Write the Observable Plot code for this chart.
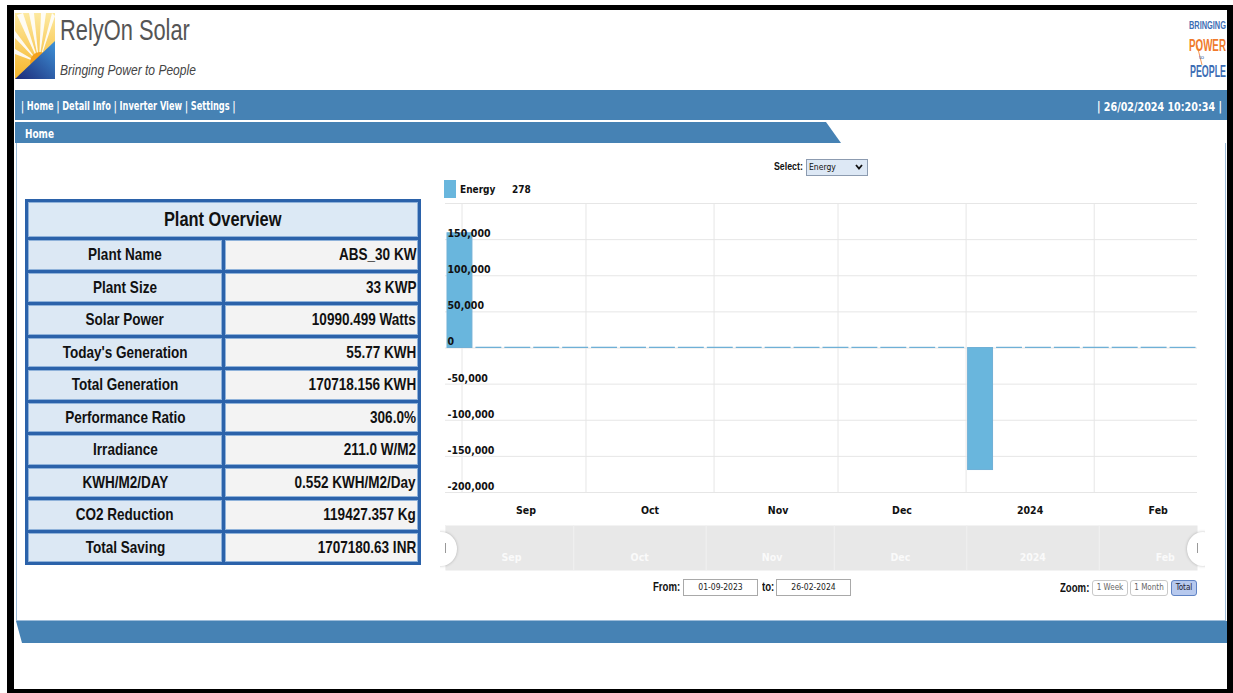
<!DOCTYPE html>
<html><head><meta charset="utf-8">
<script src="https://cdn.jsdelivr.net/npm/d3@7"></script>
<script src="https://cdn.jsdelivr.net/npm/@observablehq/plot@0.6"></script>
<style>
body{margin:0;width:1233px;height:693px;position:relative;overflow:hidden;background:#fff;font-family:"DejaVu Sans Condensed","DejaVu Sans",sans-serif;}
.abs{position:absolute;}
.cond{font-family:"DejaVu Sans Condensed","DejaVu Sans",sans-serif;}
#tbl{left:25px;top:199px;width:390px;padding:3px;background:#2b62aa;display:grid;grid-template-columns:194px 193px;gap:3px;font-family:"Liberation Sans",Arial,sans-serif;}
#tbl div{box-sizing:border-box;color:#111;font-weight:bold;font-size:16.5px;display:flex;align-items:center;box-shadow:inset 0 0 0 1px #8fb2da;overflow:visible;}
#tbl span{display:inline-block;white-space:nowrap;transform:scaleX(0.82);}
#tbl .t{grid-column:span 2;height:35px;background:#dce9f5;justify-content:center;font-size:20px;}
#tbl .t span{transform-origin:center;}
#tbl .l{height:29.5px;background:#dce8f4;justify-content:center;}
#tbl .l span{transform-origin:center;}
#tbl .v{height:29.5px;background:#f3f3f3;justify-content:flex-end;padding-right:2px;}
#tbl .v span{transform-origin:right center;}
.inp{border:1px solid #a9a9a9;background:#fff;font-size:8.5px;text-align:center;line-height:15px;height:15px;box-sizing:content-box;color:#222;}
.btn{border:1px solid #c9c9c9;border-radius:3px;font-size:8px;color:#666;text-align:center;line-height:14px;height:14px;background:#fff;}
.lbl{font-family:"Liberation Sans",Arial,sans-serif;font-weight:bold;font-size:12px;color:#111;transform:scaleX(0.8);transform-origin:left center;white-space:nowrap;}
</style></head>
<body>
<div class="abs" style="left:7px;top:5px;width:1226px;height:688px;box-sizing:border-box;border-left:7px solid #000;border-top:5px solid #000;border-right:6px solid #000;border-bottom:4px solid #000;"></div>

<!-- header logo -->
<svg class="abs" style="left:15px;top:13px" width="40" height="66" viewBox="0 0 40 66">
 <defs>
  <linearGradient id="bl" x1="0" y1="1" x2="1" y2="0"><stop offset="0" stop-color="#1c2a78"/><stop offset="1" stop-color="#3f93d8"/></linearGradient>
  <linearGradient id="yl" x1="0" y1="0" x2="0" y2="1"><stop offset="0" stop-color="#fde9a0"/><stop offset="1" stop-color="#f6b62a"/></linearGradient>
 </defs>
 <rect width="40" height="66" fill="url(#yl)"/>
 <g fill="#fff" opacity="0.9">
  <polygon points="24,50 2,2 8,0"/><polygon points="24,50 14,0 19,0"/><polygon points="24,50 26,0 31,0"/>
  <polygon points="24,50 37,0 40,3"/><polygon points="24,50 0,18 0,25"/><polygon points="24,50 0,36 0,41"/>
 </g>
 <circle cx="25" cy="49" r="10" fill="#f4a11d"/>
 <polygon points="0,66 40,28 40,66" fill="url(#bl)"/>
</svg>
<svg class="abs" style="left:58px;top:10px" width="260" height="75" font-family="Liberation Sans, Arial, sans-serif">
 <text class="fit" data-x="2" data-y="30" data-w="130" font-size="29" fill="#555">RelyOn Solar</text>
 <text class="fit" data-x="2" data-y="65" data-w="136" font-size="15" font-style="italic" fill="#444">Bringing Power to People</text>
</svg>
<svg class="abs" style="left:1100px;top:15px" width="127" height="66" font-family="Liberation Sans, Arial, sans-serif">
 <text class="fit" data-x="89" data-y="14" data-w="37" font-weight="bold" font-size="11" fill="#3c6db4">BRINGING</text>
 <text class="fit" data-x="89" data-y="36" data-w="37" font-weight="bold" font-size="17" fill="#f07a2b">POWER</text>
 <line x1="97" y1="30" x2="102" y2="50" stroke="#f07a2b" stroke-width="0.8"/>
 <text x="99" y="44" font-size="6" fill="#3c6db4">to</text>
 <text class="fit" data-x="90" data-y="62" data-w="36" font-weight="bold" font-size="16" fill="#3c6db4">PEOPLE</text>
</svg>

<!-- nav -->
<div class="abs" style="left:15px;top:90px;width:1212px;height:30px;background:#4682b4;"></div>
<svg class="abs" style="left:15px;top:90px" width="1212" height="30" font-family="DejaVu Sans Condensed, sans-serif">
 <text class="fit" data-x="6" data-y="20" data-w="215" font-weight="bold" font-size="11.5" fill="#fff">| Home | Detail Info | Inverter View | Settings |</text>
 <text class="fit" data-x="1082" data-y="20.5" data-w="125" font-weight="bold" font-size="13" fill="#fff">| 26/02/2024 10:20:34 |</text>
</svg>
<div class="abs" style="left:15px;top:122px;width:826px;height:21px;background:#4682b4;clip-path:polygon(0 0,811px 0,826px 100%,0 100%);"></div>
<svg class="abs" style="left:15px;top:122px" width="100" height="21" font-family="DejaVu Sans Condensed, sans-serif">
 <text class="fit" data-x="10" data-y="15.5" data-w="29" font-weight="bold" font-size="12" fill="#fff">Home</text>
</svg>
<div class="abs" style="left:16px;top:143px;width:1210px;height:478px;box-sizing:border-box;border:1px solid #9dbcd9;border-top:none;"></div>
<div class="abs" style="left:16px;top:621px;width:1211px;height:22px;background:#4682b4;clip-path:polygon(0 0,100% 0,100% 100%,6px 100%);"></div>

<!-- table -->
<div id="tbl" class="abs"></div>

<!-- chart controls -->
<div class="abs lbl" style="left:774px;top:160px;font-size:11px;">Select:</div>
<div class="abs cond" style="left:806px;top:159px;width:62px;height:17px;background:#dde8f5;border:1px solid #8c9bb0;box-sizing:border-box;font-size:8.5px;line-height:15px;padding-left:2px;color:#111;">Energy
 <svg style="position:absolute;right:4px;top:4px" width="8" height="6"><polyline points="1,1 4,4.5 7,1" fill="none" stroke="#111" stroke-width="1.8"/></svg>
</div>
<div class="abs" style="left:444px;top:180px;width:12px;height:18px;background:#69b6dd;"></div>
<div class="abs cond" style="left:460px;top:184px;font-size:10px;font-weight:bold;color:#111;">Energy</div>
<div class="abs cond" style="left:512px;top:184px;font-size:10px;font-weight:bold;color:#111;">278</div>

<div id="chart" class="abs" style="left:440px;top:195px;"></div>
<div id="nav" class="abs" style="left:440px;top:525px;"></div>
<div class="abs" style="left:425px;top:532px;width:32px;height:34px;border-radius:50%;background:#fff;box-shadow:0 0 3px rgba(0,0,0,0.25);clip-path:inset(-5px -5px -5px 15px);"></div>
<div class="abs" style="left:445px;top:543px;width:1px;height:10px;background:#999;"></div>
<div class="abs" style="left:1187px;top:532px;width:32px;height:34px;border-radius:50%;background:#fff;box-shadow:0 0 3px rgba(0,0,0,0.25);clip-path:inset(-5px 14px -5px -5px);"></div>
<div class="abs" style="left:1197px;top:543px;width:1px;height:10px;background:#999;"></div>

<div class="abs lbl" style="left:653px;top:580px;">From:</div>
<div class="abs inp cond" style="left:683px;top:579px;width:73px;">01-09-2023</div>
<div class="abs lbl" style="left:762px;top:580px;">to:</div>
<div class="abs inp cond" style="left:776px;top:579px;width:73px;">26-02-2024</div>
<div class="abs lbl" style="left:1060px;top:581px;">Zoom:</div>
<div class="abs btn cond" style="left:1092px;top:580px;width:34px;">1 Week</div>
<div class="abs btn cond" style="left:1130px;top:580px;width:36px;">1 Month</div>
<div class="abs btn cond" style="left:1171px;top:580px;width:24px;background:#b7c9ee;border-color:#5f83c4;color:#223;">Total</div>

<script>
// ---- table data ----
const rowLabels = ["Plant Name","Plant Size","Solar Power","Today's Generation","Total Generation","Performance Ratio","Irradiance","KWH/M2/DAY","CO2 Reduction","Total Saving"];
const rowValues = ["ABS_30 KW","33 KWP","10990.499 Watts","55.77 KWH","170718.156 KWH","306.0%","211.0 W/M2","0.552 KWH/M2/Day","119427.357 Kg","1707180.63 INR"];

// ---- chart data (weekly energy) ----
const weekStarts = ["2023-08-28","2023-09-04","2023-09-11","2023-09-18","2023-09-25","2023-10-02","2023-10-09","2023-10-16","2023-10-23","2023-10-30","2023-11-06","2023-11-13","2023-11-20","2023-11-27","2023-12-04","2023-12-11","2023-12-18","2023-12-25","2024-01-01","2024-01-08","2024-01-15","2024-01-22","2024-01-29","2024-02-05","2024-02-12","2024-02-19"];
const energy = [158800,386,371,402,365,394,410,377,352,368,341,329,312,336,318,305,297,322,-168900,331,344,356,372,389,395,278];
const yTicks = [-200000,-150000,-100000,-50000,0,50000,100000,150000];
const yGrid = [-200000,-150000,-100000,-50000,0,50000,100000,150000,200000];
const monthStarts = ["2023-09-01","2023-10-01","2023-11-01","2023-12-01","2024-01-01","2024-02-01"];
const monthLabels = ["Sep","Oct","Nov","Dec","2024","Feb"];

// fit compressed header texts to their measured widths
document.querySelectorAll("text.fit").forEach(t => {
  const w = +t.dataset.w, n = t.getComputedTextLength() || w;
  t.setAttribute("transform", `translate(${t.dataset.x},${t.dataset.y}) scale(${w / n},1)`);
});

const tbl = document.getElementById("tbl");
tbl.innerHTML = `<div class="t"><span>Plant Overview</span></div>` + rowLabels.map((l,i)=>`<div class="l"><span>${l}</span></div><div class="v"><span>${rowValues[i]}</span></div>`).join("");

const weeks = weekStarts.map((s,i)=>({start:new Date(s), end:d3.utcDay.offset(new Date(s),7), value:energy[i]}));
const months = monthStarts.map((s,i)=>({date:new Date(s), label:monthLabels[i]}));
const fmt = d => d3.format(",")(d).replace("\u2212","-");
const font = {fontFamily:"DejaVu Sans Condensed, DejaVu Sans, sans-serif", fontSize:"10.5px", color:"#111", background:"transparent", overflow:"visible"};

const chart = Plot.plot({
  width:765, height:325, marginLeft:5, marginRight:8, marginTop:8, marginBottom:28,
  x:{type:"utc", domain:[new Date("2023-08-28"), new Date("2024-02-26")], axis:null},
  y:{domain:[-200000,200000], axis:null},
  style:font,
  marks:[
    Plot.gridY(yGrid, {stroke:"#e6e6e6", strokeOpacity:1}),
    Plot.gridX(months.map(d=>d.date), {stroke:"#e6e6e6", strokeOpacity:1}),
    Plot.rectY(weeks, {x1:"start", x2:"end", y:"value", fill:"#69b6dd", stroke:"#6fb0d6", strokeWidth:1, insetLeft:2, insetRight:2}),
    Plot.text(yTicks, {y:d=>d, text:fmt, frameAnchor:"left", textAnchor:"start", dx:2, dy:-6, fontWeight:"bold", fill:"#111"}),
    Plot.text(months, {x:"date", text:"label", frameAnchor:"bottom", dy:21, dx:64, fontWeight:"bold", fill:"#111"})
  ]
});
document.getElementById("chart").append(chart);

const nav = Plot.plot({
  width:765, height:45, marginLeft:5, marginRight:8, marginTop:0, marginBottom:0,
  x:{type:"utc", domain:[new Date("2023-09-01"), new Date("2024-02-24")], axis:null},
  style:font,
  marks:[
    Plot.frame({fill:"#e8e8e8", stroke:null}),
    Plot.gridX(months.map(d=>d.date), {stroke:"#f1f1f1", strokeOpacity:1}),
    Plot.text(months, {x:"date", text:"label", frameAnchor:"bottom", dy:-10, dx:66, fontWeight:"bold", fill:"#fafafa"})
  ]
});
document.getElementById("nav").append(nav);
</script>
</body></html>
